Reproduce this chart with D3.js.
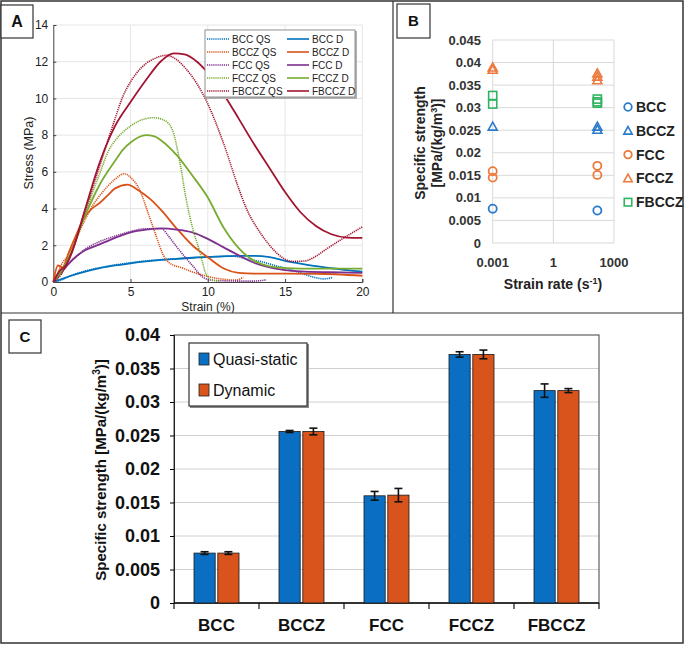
<!DOCTYPE html>
<html><head><meta charset="utf-8">
<script src="https://cdn.jsdelivr.net/npm/d3@7"></script>
<style>
html,body{margin:0;padding:0;background:#fff;}
svg{display:block;}
text{font-family:"Liberation Sans",Arial,sans-serif;}
</style></head>
<body>
<script>
// ---------- Panel A data: stress-strain curves [strain %, stress MPa] ----------
const aSeriesNames = ["BCC QS","BCC D","BCCZ QS","BCCZ D","FCC QS","FCC D","FCCZ QS","FCCZ D","FBCCZ QS","FBCCZ D"];
const bccQS = [[0,0],[0.5,0.1],[1,0.3],[2,0.58],[3,0.78],[4,0.93],[5,1.05],[6,1.15],[7,1.22],[8,1.27],[9,1.32],[10,1.36],[11,1.4],[11.7,1.4],[12.5,1.26],[13.5,1.1],[14.5,0.86],[15.2,0.72],[16,0.5],[16.9,0.25],[17.5,0.17],[18.1,0.25]];
const bccD = [[0,0],[0.5,0.15],[1,0.3],[2,0.55],[3,0.75],[4,0.9],[5,1.02],[6,1.12],[7,1.2],[8,1.26],[9,1.32],[10,1.37],[11,1.4],[12,1.42],[13,1.42],[14,1.36],[15,1.15],[16,1.0],[17,0.86],[18,0.75],[19,0.65],[20,0.57]];
const bcczQS = [[0,0],[0.3,0.5],[0.5,0.9],[1,1.5],[1.5,2.4],[2,3.3],[2.5,4.1],[3,4.7],[3.5,5.2],[4,5.6],[4.6,5.9],[5,5.7],[5.6,5.0],[6.2,3.6],[6.7,2.4],[7.1,1.5],[7.5,1.05],[8.4,0.75],[9,0.55],[10,0.3],[11,0.15],[11.8,0.1],[12.3,0.25]];
const bcczD = [[0,0],[0.3,0.9],[0.6,0.8],[1,1.6],[1.5,2.6],[2,3.5],[2.5,4.0],[3,4.3],[3.5,4.7],[4,5.1],[4.8,5.3],[5.5,5.0],[6.3,4.5],[7,3.9],[8,2.9],[9,2.0],[10,1.35],[11,0.75],[12,0.5],[13,0.46],[15,0.46],[17,0.45],[20,0.34]];
const fccQS = [[0,0],[0.5,0.5],[1,1.0],[1.5,1.4],[2,1.75],[3,2.2],[4,2.5],[5,2.75],[6,2.9],[7,2.9],[7.5,2.45],[8,1.9],[9,0.9],[9.8,0.2],[10.5,0.08],[12,0.05],[13,0.05],[13.8,0.12]];
const fccD = [[0,0],[0.5,0.5],[1,1.0],[1.5,1.4],[2,1.7],[3,2.05],[4,2.4],[5,2.7],[6,2.85],[7,2.92],[8,2.85],[9,2.7],[10,2.35],[11,1.9],[12,1.45],[13,1.05],[14,0.8],[15,0.65],[16,0.58],[18,0.53],[20,0.5]];
const fcczQS = [[0,0],[0.5,0.5],[1,1.3],[2,3.6],[3,5.9],[3.6,7.2],[4,7.7],[5,8.5],[6,8.9],[6.5,8.95],[7.2,8.8],[7.7,8.3],[8.2,6.5],[8.6,4.5],[9,3.0],[9.5,1.6],[9.9,0.4],[10.3,0.1],[10.8,0.05]];
const fcczD = [[0,0],[0.5,0.6],[1,1.3],[2,3.5],[3,5.3],[4,6.6],[4.5,7.2],[5,7.6],[6,8.0],[6.5,7.95],[7,7.7],[8,6.9],[9,5.8],[10,4.6],[11,3.0],[12,1.85],[13,1.15],[14,0.85],[15,0.76],[17,0.73],[20,0.73]];
const fbcczQS = [[0,0],[0.5,0.4],[1,1.2],[2,3.7],[3,6.3],[4,8.9],[4.5,10.1],[5,10.9],[6,11.9],[6.5,12.15],[7.3,12.35],[8,12.1],[8.6,11.6],[9.3,10.8],[10,9.7],[11,7.6],[12,5.1],[12.5,4.0],[13.3,2.8],[14,2.0],[14.5,1.55],[15.5,1.12],[16.3,1.15],[17,1.4],[17.6,1.75],[18.9,2.45],[20,3.0]];
const fbcczD = [[0,0],[0.4,0.6],[0.8,0.9],[1.2,1.6],[2,3.8],[3,6.5],[4,8.5],[5,9.8],[6,11.0],[7,12.05],[7.8,12.45],[8.5,12.4],[9.3,12.0],[10,11.4],[11.2,10.0],[12,8.9],[13,7.5],[14,6.2],[15,4.9],[16,3.8],[17,3.05],[18,2.6],[19,2.42],[20,2.4]];
const aColors = ["#0072BD","#0072BD","#D95319","#D95319","#7E2F8E","#7E2F8E","#77AC30","#77AC30","#A2142F","#A2142F"];
const aXTicks = [0,5,10,15,20];
const aYTicks = [0,2,4,6,8,10,12,14];

// ---------- Panel B data ----------
const bMaterials = ["BCC","BCCZ","FCC","FCCZ","FBCCZ"];
const bShapes = ["circle","triangle","circle","triangle","square"];
const bColors = ["#2b7bcc","#2b7bcc","#ec7a3c","#ec7a3c","#2fb561"];
const bRateLow = 0.001;
const bRateHigh = 150;
const bLowValues = [[0.0076],[0.0258],[0.0159,0.0145],[0.0389,0.0384],[0.0327,0.0308]];
const bHighValues = [[0.0072],[0.0258,0.0251],[0.0171,0.0151],[0.0376,0.0369,0.0361],[0.0319,0.0313,0.031]];
const bXTicks = [0.001,1,1000];
const bYTicks = [0,0.005,0.01,0.015,0.02,0.025,0.03,0.035,0.04,0.045];

// ---------- Panel C data ----------
const cCategories = ["BCC","BCCZ","FCC","FCCZ","FBCCZ"];
const cQuasiStatic = [0.00745,0.0256,0.0160,0.0371,0.0317];
const cDynamic = [0.00745,0.0256,0.0161,0.0371,0.0317];
const cQuasiErr = [0.0002,0.00015,0.00065,0.0004,0.001];
const cDynErr = [0.0002,0.0005,0.001,0.00065,0.0003];
const cYTicks = [0,0.005,0.01,0.015,0.02,0.025,0.03,0.035,0.04];
const cColors = ["#0a6fc2","#d9541c"];

const W = 685, H = 645;
const svg = d3.select("body").append("svg").attr("width",W).attr("height",H);
svg.append("rect").attr("width",W).attr("height",H).attr("fill","#fff");

// ================= PANEL A =================
const A = svg.append("g");
const ax = d3.scaleLinear().domain([0,20]).range([53.3,362.3]);
const ay = d3.scaleLinear().domain([0,14]).range([282,25]);
A.append("g").selectAll("line").data(aXTicks.slice(1)).join("line")
  .attr("x1",d=>ax(d)).attr("x2",d=>ax(d)).attr("y1",ay(0)).attr("y2",ay(14))
  .attr("stroke","#e6e6e6").attr("stroke-width",1);
A.append("g").selectAll("line").data(aYTicks.slice(1)).join("line")
  .attr("x1",ax(0)).attr("x2",ax(20)).attr("y1",d=>ay(d)).attr("y2",d=>ay(d))
  .attr("stroke","#e6e6e6").attr("stroke-width",1);
const axB = A.append("g").attr("transform",`translate(0,${ay(0)})`)
  .call(d3.axisBottom(ax).tickValues(aXTicks).tickSize(-3).tickPadding(5));
const axL = A.append("g").attr("transform",`translate(${ax(0)},0)`)
  .call(d3.axisLeft(ay).tickValues(aYTicks).tickSize(-3).tickPadding(5));
[axB,axL].forEach(g=>{
  g.select(".domain").attr("stroke","#404040");
  g.selectAll(".tick line").attr("stroke","#404040");
  g.selectAll("text").attr("font-size","12px").attr("fill","#222").style("font-family","Liberation Sans, Arial");
});
const line = d3.line().x(d=>ax(d[0])).y(d=>ay(d[1])).curve(d3.curveMonotoneX);
const aData = [bccQS,bccD,bcczQS,bcczD,fccQS,fccD,fcczQS,fcczD,fbcczQS,fbcczD];
aData.forEach((s,i)=>{
  const dotted = i%2===0;
  A.append("path").datum(s).attr("d",line).attr("fill","none")
    .attr("stroke",aColors[i]).attr("stroke-width",dotted?1.6:1.8)
    .attr("stroke-dasharray",dotted?"1.2,0.9":null);
});
A.append("text").attr("transform",`translate(33,153) rotate(-90)`).attr("text-anchor","middle")
  .attr("font-size","12.5px").attr("fill","#222").text("Stress (MPa)");
A.append("text").attr("x",208).attr("y",311).attr("text-anchor","middle")
  .attr("font-size","12px").attr("fill","#222").text("Strain (%)");
const lg = A.append("g");
lg.append("rect").attr("x",206).attr("y",31).attr("width",151).attr("height",68).attr("fill","#b0b0b0");
lg.append("rect").attr("x",205).attr("y",30).attr("width",150).attr("height",67).attr("fill","#fff").attr("stroke","#909090");
aSeriesNames.forEach((n,i)=>{
  const col = i%2, row = Math.floor(i/2);
  const y = 39 + row*13;
  const x0 = col===0?207:287;
  lg.append("line").attr("x1",x0).attr("x2",x0+22).attr("y1",y).attr("y2",y)
    .attr("stroke",aColors[i]).attr("stroke-width",1.6).attr("stroke-dasharray",col===0?"1.2,0.9":null);
  lg.append("text").attr("x",x0+25).attr("y",y+3.8).attr("font-size","10px").attr("fill","#222").text(n);
});

// ================= PANEL B =================
const B = svg.append("g");
const bx = d3.scaleLog().domain([0.001,1000]).range([492.7,614]);
const by = d3.scaleLinear().domain([0,0.045]).range([243,40]);
B.append("g").selectAll("line").data(bYTicks).join("line")
  .attr("x1",bx(0.001)).attr("x2",bx(1000)).attr("y1",d=>by(d)).attr("y2",d=>by(d))
  .attr("stroke","#d9d9d9");
B.append("g").selectAll("line").data(bXTicks).join("line")
  .attr("x1",d=>bx(d)).attr("x2",d=>bx(d)).attr("y1",by(0)).attr("y2",by(0.045))
  .attr("stroke","#d9d9d9");
B.append("g").selectAll("text").data(bYTicks).join("text")
  .attr("x",481).attr("y",d=>by(d)+4.5).attr("text-anchor","end")
  .attr("font-size","13px").attr("font-weight","bold").attr("fill","#333")
  .text(d=>d3.format("")(+d.toFixed(3)));
B.append("g").selectAll("text").data(bXTicks).join("text")
  .attr("x",d=>bx(d)).attr("y",267).attr("text-anchor","middle")
  .attr("font-size","13px").attr("font-weight","bold").attr("fill","#333")
  .text(d=>d3.format("")(d));
const bxl = B.append("text").attr("x",553).attr("y",289).attr("text-anchor","middle")
  .attr("font-size","14px").attr("font-weight","bold").attr("fill","#222");
bxl.append("tspan").text("Strain rate (s");
bxl.append("tspan").attr("dy",-5).attr("font-size","9px").text("-1");
bxl.append("tspan").attr("dy",5).text(")");
B.append("text").attr("transform","translate(425,143) rotate(-90)").attr("text-anchor","middle")
  .attr("font-size","14px").attr("font-weight","bold").attr("fill","#222").text("Specific strength");
const byl = B.append("text").attr("transform","translate(442,143) rotate(-90)").attr("text-anchor","middle")
  .attr("font-size","14px").attr("font-weight","bold").attr("fill","#222");
byl.append("tspan").text("[MPa/(kg/m");
byl.append("tspan").attr("dy",-5).attr("font-size","9px").text("3");
byl.append("tspan").attr("dy",5).text(")]");

function marker(g, shape, cx, cy, color, s){
  if(shape==="circle"){
    g.append("circle").attr("cx",cx).attr("cy",cy).attr("r",s*0.9).attr("fill","none").attr("stroke",color).attr("stroke-width",1.8);
  } else if(shape==="triangle"){
    const h=s*1.8;
    g.append("path").attr("d",`M${cx},${cy-h/2-0.5}L${cx+s},${cy+h/2-0.5}L${cx-s},${cy+h/2-0.5}Z`).attr("fill","none").attr("stroke",color).attr("stroke-width",1.6);
  } else {
    g.append("rect").attr("x",cx-s*0.9).attr("y",cy-s*0.9).attr("width",s*1.8).attr("height",s*1.8).attr("fill","none").attr("stroke",color).attr("stroke-width",1.6);
  }
}
bMaterials.forEach((m,i)=>{
  bLowValues[i].forEach(v=>marker(B,bShapes[i],bx(bRateLow),by(v),bColors[i],4.5));
  bHighValues[i].forEach(v=>marker(B,bShapes[i],bx(bRateHigh),by(v),bColors[i],4.5));
  const ly = 107 + i*23.8;
  marker(B,bShapes[i],628,ly,bColors[i],4.2);
  B.append("text").attr("x",636).attr("y",ly+5).attr("font-size","14px").attr("font-weight","bold").attr("fill","#222").text(m);
});

// ================= PANEL C =================
const C = svg.append("g");
C.append("rect").attr("x",2).attr("y",313).attr("width",681).attr("height",330).attr("fill","#fff");
const cx = d3.scaleBand().domain(cCategories).range([174,599]);
const cy = d3.scaleLinear().domain([0,0.04]).range([603,335]);
const cInner = d3.scaleBand().domain(["qs","d"]).range([-22.5,22.5]).paddingInner(0.11);
C.append("g").selectAll("line").data(cYTicks.slice(1,-1)).join("line")
  .attr("x1",174).attr("x2",599).attr("y1",d=>cy(d)).attr("y2",d=>cy(d))
  .attr("stroke","#d0d0d0").attr("stroke-width",1);
C.append("rect").attr("x",174).attr("y",cy(0.04)).attr("width",425).attr("height",cy(0)-cy(0.04))
  .attr("fill","none").attr("stroke","#404040").attr("stroke-width",1);
const cAxisL = C.append("g").attr("transform","translate(174,0)")
  .call(d3.axisLeft(cy).tickValues(cYTicks).tickSize(4).tickPadding(10).tickFormat(d=>+d.toFixed(3)));
cAxisL.selectAll("text").attr("font-size","18px").attr("font-weight","bold").attr("fill","#111").style("font-family","Liberation Sans, Arial");
cAxisL.select(".domain").attr("stroke","#222");
C.append("line").attr("x1",174).attr("x2",599).attr("y1",603).attr("y2",603).attr("stroke","#111").attr("stroke-width",1.5);
const bounds = cCategories.map(c=>cx(c)).concat([cx.range()[1]]);
C.append("g").selectAll("line").data(bounds).join("line")
  .attr("x1",d=>d).attr("x2",d=>d).attr("y1",603).attr("y2",609).attr("stroke","#111").attr("stroke-width",1.2);
C.append("g").selectAll("text").data(cCategories).join("text")
  .attr("x",d=>cx(d)+cx.bandwidth()/2).attr("y",631).attr("text-anchor","middle")
  .attr("font-size","17px").attr("font-weight","bold").attr("fill","#111").text(d=>d);
const groups = [["qs",cQuasiStatic,cQuasiErr,cColors[0]],["d",cDynamic,cDynErr,cColors[1]]];
groups.forEach(([k,vals,errs,col])=>{
  cCategories.forEach((c,i)=>{
    const x0 = cx(c)+cx.bandwidth()/2+cInner(k);
    const w = cInner.bandwidth();
    C.append("rect").attr("x",x0).attr("y",cy(vals[i])).attr("width",w).attr("height",cy(0)-cy(vals[i]))
      .attr("fill",col).attr("stroke","#1a1a1a").attr("stroke-width",0.8);
    const xm = x0+w/2;
    const e = C.append("g").attr("stroke","#111").attr("stroke-width",1.6);
    e.append("line").attr("x1",xm).attr("x2",xm).attr("y1",cy(vals[i]-errs[i])).attr("y2",cy(vals[i]+errs[i]));
    e.append("line").attr("x1",xm-4).attr("x2",xm+4).attr("y1",cy(vals[i]-errs[i])).attr("y2",cy(vals[i]-errs[i]));
    e.append("line").attr("x1",xm-4).attr("x2",xm+4).attr("y1",cy(vals[i]+errs[i])).attr("y2",cy(vals[i]+errs[i]));
  });
});
const cyl = C.append("text").attr("transform","translate(106,470) rotate(-90)").attr("text-anchor","middle")
  .attr("font-size","15px").attr("font-weight","bold").attr("fill","#111");
cyl.append("tspan").text("Specific strength [MPa/(kg/m");
cyl.append("tspan").attr("dy",-6).attr("font-size","10px").text("3");
cyl.append("tspan").attr("dy",6).text(")]");
C.append("rect").attr("x",190).attr("y",344).attr("width",119).attr("height",64).attr("fill","#888");
C.append("rect").attr("x",189).attr("y",343).attr("width",118).attr("height",63).attr("fill","#fff").attr("stroke","#333").attr("stroke-width",1.2);
[["Quasi-static",cColors[0],359],["Dynamic",cColors[1],390]].forEach(([t,c,y])=>{
  C.append("rect").attr("x",199).attr("y",y-6).attr("width",10).attr("height",12).attr("fill",c).attr("stroke","#222").attr("stroke-width",0.8);
  C.append("text").attr("x",213).attr("y",y+6).attr("font-size","16px").attr("fill","#111").text(t);
});

// ================= Frames and panel labels =================
const F = svg.append("g").attr("fill","none").attr("stroke","#333");
F.append("rect").attr("x",1).attr("y",1).attr("width",682).attr("height",642).attr("stroke-width",1.5);
F.append("line").attr("x1",393).attr("x2",393).attr("y1",1).attr("y2",313).attr("stroke-width",1.2);
F.append("line").attr("x1",1).attr("x2",683).attr("y1",313).attr("y2",313).attr("stroke-width",1.2);
function labelBox(x,y,w,h,t,fs){
  svg.append("rect").attr("x",x).attr("y",y).attr("width",w).attr("height",h).attr("fill","#fff").attr("stroke","#333").attr("stroke-width",1.2);
  svg.append("text").attr("x",x+w/2).attr("y",y+h/2+fs*0.36).attr("text-anchor","middle")
    .attr("font-size",fs+"px").attr("font-weight","bold").attr("fill","#111").text(t);
}
labelBox(1,5,32,33,"A",16);
labelBox(397,4,33,34,"B",15);
labelBox(9,320,32,33,"C",15);
</script>
</body></html>
